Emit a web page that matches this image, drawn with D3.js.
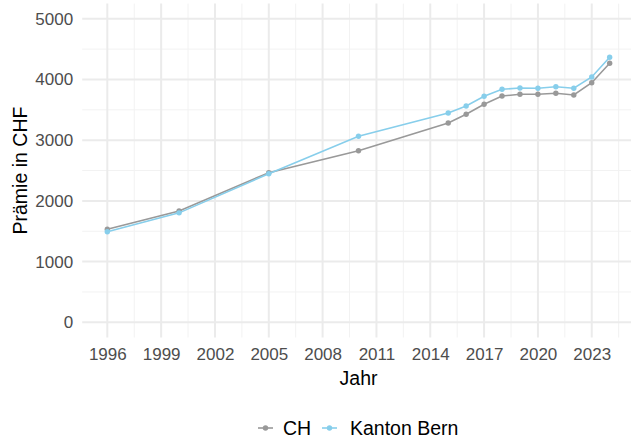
<!DOCTYPE html>
<html>
<head>
<meta charset="utf-8">
<script src="https://cdn.jsdelivr.net/npm/d3@7"></script>
<style>
  body { margin: 0; background: #fff; }
  svg { display: block; font-family: "Liberation Sans", Arial, sans-serif; }
</style>
</head>
<body>
<svg id="chart" width="631" height="439"></svg>
<script>
// data
const years = [1996, 2000, 2005, 2010, 2015, 2016, 2017, 2018, 2019, 2020, 2021, 2022, 2023, 2024];
const chValues = [1532, 1834, 2465, 2827, 3283, 3427, 3591, 3728, 3756, 3756, 3773, 3745, 3947, 4267];
const bernValues = [1493, 1803, 2448, 3064, 3448, 3563, 3723, 3838, 3860, 3855, 3881, 3855, 4041, 4366];
const seriesNames = ["CH", "Kanton Bern"];
const seriesColors = ["#999999", "#87CEEB"];
const xTicks = [1996, 1999, 2002, 2005, 2008, 2011, 2014, 2017, 2020, 2023];
const yTicks = [0, 1000, 2000, 3000, 4000, 5000];

const svg = d3.select("#chart");
const panel = { left: 82.2, right: 634.8, top: 3.6, bottom: 337.5 };

// ggplot style 5% expansion
const x = d3.scaleLinear()
    .domain([1996 - 1.4, 2024 + 1.4])
    .range([panel.left, panel.right]);
const y = d3.scaleLinear()
    .domain([-250, 5250])
    .range([panel.bottom, panel.top]);

const grid = svg.append("g");

// minor grid
const xMinor = xTicks.map(t => t + 1.5).filter(t => t < 2025.4);
const yMinor = [500, 1500, 2500, 3500, 4500];
grid.selectAll(".xminor").data(xMinor).enter().append("line")
    .attr("x1", d => x(d)).attr("x2", d => x(d))
    .attr("y1", panel.top).attr("y2", panel.bottom)
    .attr("stroke", "#f2f2f2").attr("stroke-width", 1);
grid.selectAll(".yminor").data(yMinor).enter().append("line")
    .attr("x1", panel.left).attr("x2", panel.right)
    .attr("y1", d => y(d)).attr("y2", d => y(d))
    .attr("stroke", "#f2f2f2").attr("stroke-width", 1);

// major grid
grid.selectAll(".xmajor").data(xTicks).enter().append("line")
    .attr("x1", d => x(d)).attr("x2", d => x(d))
    .attr("y1", panel.top).attr("y2", panel.bottom)
    .attr("stroke", "#ebebeb").attr("stroke-width", 2);
grid.selectAll(".ymajor").data(yTicks).enter().append("line")
    .attr("x1", panel.left).attr("x2", panel.right)
    .attr("y1", d => y(d)).attr("y2", d => y(d))
    .attr("stroke", "#ebebeb").attr("stroke-width", 2);

// axes (no lines, only labels)
const xAxis = svg.append("g")
    .attr("transform", "translate(0," + panel.bottom + ")")
    .call(d3.axisBottom(x).tickValues(xTicks).tickFormat(d3.format("d")).tickSize(0).tickPadding(10));
const yAxis = svg.append("g")
    .attr("transform", "translate(" + panel.left + ",0)")
    .call(d3.axisLeft(y).tickValues(yTicks).tickFormat(d3.format("d")).tickSize(0).tickPadding(9));
[xAxis, yAxis].forEach(a => {
    a.select(".domain").remove();
    a.selectAll("text")
        .attr("fill", "#4d4d4d")
        .style("font-size", "17px")
        .style("font-family", "Liberation Sans, Arial, sans-serif");
});

// axis titles
svg.append("text")
    .attr("x", (panel.left + panel.right) / 2)
    .attr("y", 385)
    .attr("text-anchor", "middle")
    .style("font-size", "19.5px")
    .text("Jahr");
svg.append("text")
    .attr("transform", "translate(27," + ((panel.top + panel.bottom) / 2) + ") rotate(-90)")
    .attr("text-anchor", "middle")
    .style("font-size", "19.5px")
    .text("Prämie in CHF");

// lines + points
const series = [chValues, bernValues];
const line = d3.line()
    .x((d, i) => x(years[i]))
    .y(d => y(d));

series.forEach((vals, s) => {
    const g = svg.append("g");
    g.append("path")
        .datum(vals)
        .attr("fill", "none")
        .attr("stroke", seriesColors[s])
        .attr("stroke-width", 1.6)
        .attr("d", line);
    g.selectAll("circle").data(vals).enter().append("circle")
        .attr("cx", (d, i) => x(years[i]))
        .attr("cy", d => y(d))
        .attr("r", 2.7)
        .attr("fill", seriesColors[s]);
});

// legend
const legend = svg.append("g");
const legendX = [258, 322];
const textX = [283, 350];
seriesNames.forEach((name, i) => {
    legend.append("line")
        .attr("x1", legendX[i]).attr("x2", legendX[i] + 15)
        .attr("y1", 428).attr("y2", 428)
        .attr("stroke", seriesColors[i]).attr("stroke-width", 1.6);
    legend.append("circle")
        .attr("cx", legendX[i] + 7.5).attr("cy", 428).attr("r", 2.7)
        .attr("fill", seriesColors[i]);
    legend.append("text")
        .attr("x", textX[i]).attr("y", 435)
        .style("font-size", "19.5px")
        .text(name);
});
</script>
</body>
</html>
